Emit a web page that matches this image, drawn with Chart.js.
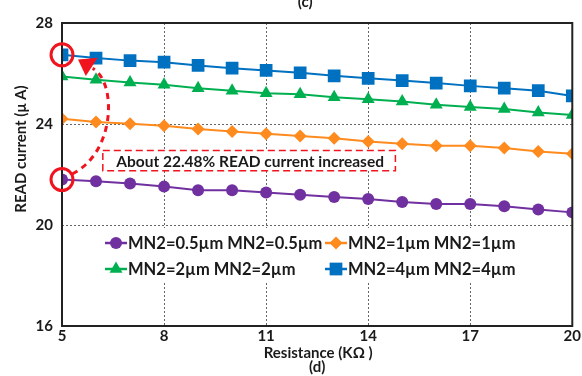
<!DOCTYPE html>
<html>
<head>
<meta charset="utf-8">
<script src="https://cdn.jsdelivr.net/npm/chart.js@4.4.1/dist/chart.umd.min.js"></script>
<style>
  html, body { margin: 0; padding: 0; background: #fff; }
  #wrap { width: 582px; height: 376px; }
</style>
</head>
<body>
<div id="wrap"><canvas id="readChart" width="582" height="376"></canvas></div>
<script>
// ===== data =====
const resistance = [5, 6, 7, 8, 9, 10, 11, 12, 13, 14, 15, 16, 17, 18, 19, 20]; // KΩ
const xTicks = [5, 8, 11, 14, 17, 20];
const yTicks = [16, 20, 24, 28];

const mn05 = [21.80, 21.73, 21.64, 21.52, 21.38, 21.38, 21.29, 21.20, 21.11, 21.03, 20.91, 20.83, 20.83, 20.74, 20.61, 20.50];
const mn1  = [24.21, 24.08, 24.01, 23.93, 23.80, 23.70, 23.61, 23.52, 23.44, 23.31, 23.22, 23.14, 23.14, 23.05, 22.91, 22.82];
const mn2  = [25.88, 25.75, 25.64, 25.55, 25.42, 25.32, 25.22, 25.18, 25.06, 24.98, 24.89, 24.76, 24.67, 24.59, 24.46, 24.36];
const mn4  = [26.74, 26.61, 26.51, 26.45, 26.32, 26.21, 26.12, 26.03, 25.91, 25.81, 25.72, 25.62, 25.51, 25.42, 25.32, 25.11];

const seriesLabels = ['MN2=0.5µm MN2=0.5µm', 'MN2=1µm MN2=1µm', 'MN2=2µm MN2=2µm', 'MN2=4µm MN2=4µm'];
const noteText = 'About 22.48% READ current increased';

const FONT = 'Lato, "Open Sans", "Liberation Sans", sans-serif';
const RED = '#F0141E';

function makeSet(label, values, color, style, radius) {
  return {
    label: label,
    data: values.map((v, i) => ({ x: resistance[i], y: v })),
    borderColor: color,
    backgroundColor: color,
    borderWidth: 2,
    pointStyle: style,
    pointRadius: radius,
    pointHoverRadius: radius,
    pointBorderWidth: 0,
    tension: 0
  };
}

const datasets = [
  makeSet(seriesLabels[0], mn05, '#7030A0', 'circle', 6),
  makeSet(seriesLabels[1], mn1,  '#FF8A1E', 'rectRot', 6.5),
  makeSet(seriesLabels[2], mn2,  '#00B050', 'triangle', 7.5),
  makeSet(seriesLabels[3], mn4,  '#0070C0', 'rect', 9)
];

// ===== helpers =====
function drawMarker(ctx, ds, x, y) {
  if (Chart.helpers && Chart.helpers.drawPoint) {
    ctx.fillStyle = ds.backgroundColor;
    ctx.strokeStyle = ds.borderColor;
    Chart.helpers.drawPoint(ctx, { pointStyle: ds.pointStyle, radius: ds.pointRadius, rotation: 0, borderWidth: 0 }, x, y);
  }
}

// white boxes behind legend / note, drawn over the grid
const boxesPlugin = {
  id: 'boxes',
  beforeDatasetsDraw(chart) {
    const { ctx, chartArea: a, scales } = chart;
    ctx.save();
    ctx.fillStyle = '#fff';
    ctx.fillRect(a.left + 38, a.top + 205, a.right - a.left - 40, 55);
    const x1 = scales.x.getPixelForValue(6.2), x2 = scales.x.getPixelForValue(14.8);
    const y1 = scales.y.getPixelForValue(22.95), y2 = scales.y.getPixelForValue(22.15);
    ctx.fillRect(x1, y1, x2 - x1, y2 - y1);
    ctx.restore();
  }
};

// frame, legend, annotations, axis titles
const decorPlugin = {
  id: 'decor',
  afterDatasetsDraw(chart) {
    const { ctx, chartArea: a, scales } = chart;
    const sx = scales.x, sy = scales.y;
    ctx.save();

    // frame
    ctx.strokeStyle = '#222';
    ctx.lineWidth = 2;
    ctx.strokeRect(a.left, a.top, a.right - a.left, a.bottom - a.top);

    // legend (2 x 2)
    const cols = [a.left + 43, a.left + 263];
    const rows = [a.top + 220, a.top + 246];
    ctx.font = 'bold 16.5px ' + FONT;
    ctx.textBaseline = 'middle';
    ctx.textAlign = 'left';
    chart.data.datasets.forEach((ds, i) => {
      const x = cols[i % 2], y = rows[Math.floor(i / 2)];
      ctx.strokeStyle = ds.borderColor;
      ctx.lineWidth = 2.5;
      ctx.beginPath();
      ctx.moveTo(x, y);
      ctx.lineTo(x + 22, y);
      ctx.stroke();
      drawMarker(ctx, ds, x + 11, y);
      ctx.fillStyle = '#1a1a1a';
      ctx.fillText(ds.label, x + 23, y + 1);
    });

    // note box
    const x1 = sx.getPixelForValue(6.2), x2 = sx.getPixelForValue(14.8);
    const y1 = sy.getPixelForValue(22.95), y2 = sy.getPixelForValue(22.15);
    ctx.strokeStyle = RED;
    ctx.lineWidth = 1.5;
    ctx.setLineDash([7, 4]);
    ctx.strokeRect(x1, y1, x2 - x1, y2 - y1);
    ctx.setLineDash([]);
    ctx.fillStyle = '#1a1a1a';
    ctx.font = 'bold 15.5px ' + FONT;
    ctx.textAlign = 'center';
    ctx.fillText(noteText, (x1 + x2) / 2 + 1, (y1 + y2) / 2 + 1);

    // red circles on first points
    ctx.strokeStyle = RED;
    ctx.lineWidth = 3;
    [mn4[0], mn05[0]].forEach(v => {
      ctx.beginPath();
      ctx.arc(sx.getPixelForValue(resistance[0]), sy.getPixelForValue(v), 11, 0, Math.PI * 2);
      ctx.stroke();
    });

    // dashed curved arrow
    const P = (x, y) => [sx.getPixelForValue(x), sy.getPixelForValue(y)];
    const s = P(5.3, 22.02), c1 = P(6.6, 22.9), c2 = P(6.6, 25.7), e = P(5.9, 26.2);
    ctx.lineWidth = 3;
    ctx.setLineDash([6, 5]);
    ctx.beginPath();
    ctx.moveTo(s[0], s[1]);
    ctx.bezierCurveTo(c1[0], c1[1], c2[0], c2[1], e[0], e[1]);
    ctx.stroke();
    ctx.setLineDash([]);
    const t1 = P(5.47, 26.55), t2 = P(6.05, 26.62), t3 = P(5.7, 25.9);
    ctx.fillStyle = RED;
    ctx.beginPath();
    ctx.moveTo(t1[0], t1[1]);
    ctx.lineTo(t2[0], t2[1]);
    ctx.lineTo(t3[0], t3[1]);
    ctx.closePath();
    ctx.fill();

    // axis titles
    ctx.fillStyle = '#1a1a1a';
    ctx.font = 'bold 15px ' + FONT;
    ctx.textAlign = 'center';
    ctx.textBaseline = 'middle';
    const cx = (a.left + a.right) / 2;
    ctx.fillText('Resistance (KΩ )', cx + 1, a.bottom + 27);
    ctx.fillText('(d)', cx, a.bottom + 41);
    ctx.fillText('(c)', cx - 12, 2);
    ctx.translate(21, a.top + 126);
    ctx.rotate(-Math.PI / 2);
    ctx.fillText('READ current (μ A)', 0, 0);

    ctx.restore();
  }
};

// ===== chart =====
const ctx = document.getElementById('readChart').getContext('2d');
const readChart = new Chart(ctx, {
  type: 'line',
  data: { datasets: datasets },
  options: {
    animation: false,
    responsive: false,
    layout: { padding: { top: 23, right: 7, left: 0, bottom: 0 } },
    plugins: { legend: { display: false }, tooltip: { enabled: false } },
    scales: {
      x: {
        type: 'linear',
        min: 5, max: 20,
        afterBuildTicks: (scale) => { scale.ticks = xTicks.map(v => ({ value: v })); },
        afterFit: (scale) => { scale.height = 50; },
        grid: { color: '#666', lineWidth: 1, drawTicks: false },
        border: { display: false, dash: [2, 2] },
        ticks: { color: '#1a1a1a', padding: 1, font: { family: FONT, size: 15, weight: 'bold' } }
      },
      y: {
        min: 16, max: 28,
        afterBuildTicks: (scale) => { scale.ticks = yTicks.map(v => ({ value: v })); },
        afterFit: (scale) => { scale.width = 62; },
        grid: { color: '#666', lineWidth: 1, drawTicks: false },
        border: { display: false, dash: [2, 2] },
        ticks: { color: '#1a1a1a', padding: 9, font: { family: FONT, size: 15, weight: 'bold' } }
      }
    }
  },
  plugins: [boxesPlugin, decorPlugin]
});
</script>
</body>
</html>
